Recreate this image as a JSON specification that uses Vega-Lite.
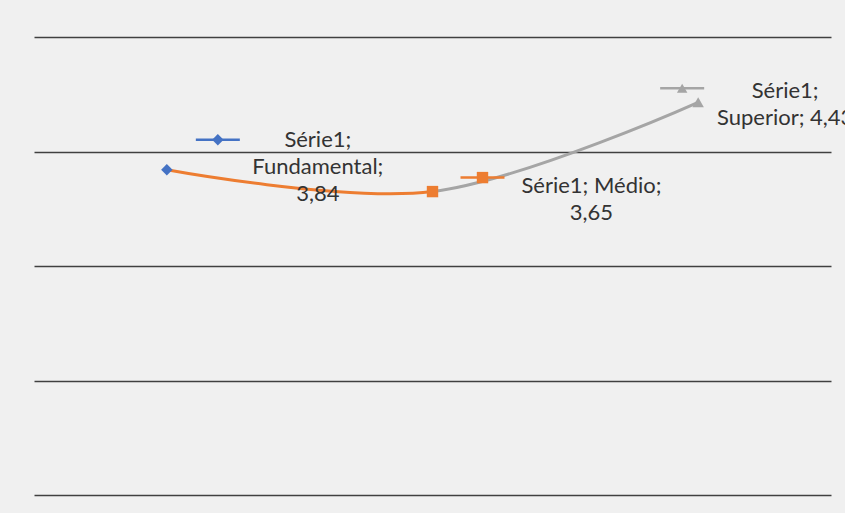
{
  "$schema": "https://vega.github.io/schema/vega-lite/v6.json",
  "width": 797,
  "height": 458,
  "autosize": {"type": "none"},
  "padding": {"left": 34, "top": 37, "right": 14, "bottom": 18},
  "background": "#f0f0f0",
  "config": {"view": {"stroke": null}, "text": {"font": "Lato", "fontSize": 22, "color": "#333333", "lineBreak": "\n", "lineHeight": 27}},
  "data": {"values": [
    {"nivel": "Fundamental", "valor": 3.84, "rotulo": "Série1;\nFundamental;\n3,84"},
    {"nivel": "Médio", "valor": 3.65, "rotulo": "Série1; Médio;\n3,65"},
    {"nivel": "Superior", "valor": 4.43, "rotulo": "Série1;\nSuperior; 4,43"}
  ]},
  "encoding": {
    "x": {"field": "nivel", "type": "nominal", "sort": null, "scale": {"type": "point", "padding": 0.5}, "axis": null},
    "y": {"field": "valor", "type": "quantitative", "scale": {"domain": [1, 5], "nice": false, "zero": false},
      "axis": {"grid": true, "labels": false, "ticks": false, "domain": false, "title": null, "values": [1, 2, 3, 4, 5], "gridColor": "#404040", "gridWidth": 1.3}}
  },
  "layer": [
    {
      "mark": {"type": "line", "interpolate": "catmull-rom", "strokeWidth": 3,
        "stroke": {"gradient": "linear", "x1": 0, "x2": 1, "y1": 0, "y2": 0,
          "stops": [{"offset": 0, "color": "#ED7D31"}, {"offset": 0.5, "color": "#ED7D31"}, {"offset": 0.5, "color": "#A5A5A5"}, {"offset": 1, "color": "#A5A5A5"}]}}
    },
    {
      "mark": {"type": "point", "filled": true, "opacity": 1, "size": 130},
      "encoding": {
        "color": {"field": "nivel", "type": "nominal", "scale": {"domain": ["Fundamental", "Médio", "Superior"], "range": ["#4472C4", "#ED7D31", "#A5A5A5"]}, "legend": null},
        "shape": {"field": "nivel", "type": "nominal", "scale": {"domain": ["Fundamental", "Médio", "Superior"], "range": ["diamond", "square", "triangle-up"]}, "legend": null}
      }
    },
    {
      "transform": [{"filter": "datum.nivel === 'Fundamental'"}],
      "layer": [
        {"mark": {"type": "point", "shape": "stroke", "size": 1936, "strokeWidth": 2.5, "stroke": "#4472C4", "opacity": 1, "xOffset": 51, "yOffset": -30}},
        {"mark": {"type": "point", "shape": "diamond", "filled": true, "size": 130, "color": "#4472C4", "opacity": 1, "xOffset": 51, "yOffset": -30}},
        {"mark": {"type": "text", "align": "center", "baseline": "middle", "dx": 151, "dy": -30}, "encoding": {"text": {"field": "rotulo"}}}
      ]
    },
    {
      "transform": [{"filter": "datum.nivel === 'Médio'"}],
      "layer": [
        {"mark": {"type": "point", "shape": "stroke", "size": 1936, "strokeWidth": 2.5, "stroke": "#ED7D31", "opacity": 1, "xOffset": 50, "yOffset": -14}},
        {"mark": {"type": "point", "shape": "square", "filled": true, "size": 130, "color": "#ED7D31", "opacity": 1, "xOffset": 50, "yOffset": -14}},
        {"mark": {"type": "text", "align": "center", "baseline": "middle", "dx": 159, "dy": -6}, "encoding": {"text": {"field": "rotulo"}}}
      ]
    },
    {
      "transform": [{"filter": "datum.nivel === 'Superior'"}],
      "layer": [
        {"mark": {"type": "point", "shape": "stroke", "size": 1936, "strokeWidth": 2.5, "stroke": "#A5A5A5", "opacity": 1, "xOffset": -16, "yOffset": -14}},
        {"mark": {"type": "point", "shape": "triangle-up", "filled": true, "size": 110, "color": "#A5A5A5", "opacity": 1, "xOffset": -16, "yOffset": -14}},
        {"mark": {"type": "text", "align": "center", "baseline": "middle", "dx": 87, "dy": -11}, "encoding": {"text": {"field": "rotulo"}}}
      ]
    }
  ]
}
